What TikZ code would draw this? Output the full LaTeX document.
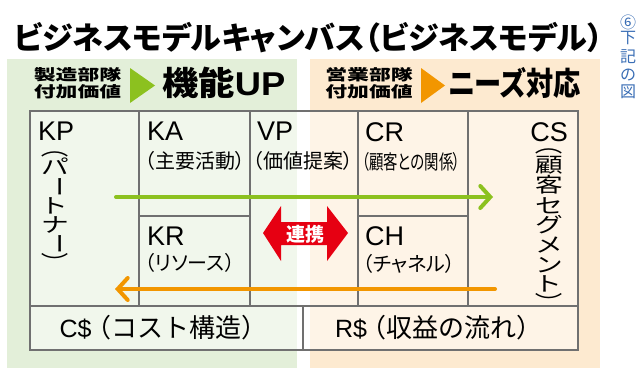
\documentclass[tikz,border=0pt]{standalone}
\usepackage{fontspec}
\usepackage{graphicx}
\usetikzlibrary{arrows.meta}
\newfontfamily\jp[RawFeature=+palt]{Noto Sans CJK JP}
\newfontfamily\jpn{Noto Sans CJK JP}
\newfontfamily\lat{Liberation Sans}
\definecolor{bggreen}{HTML}{E3EFD9}
\definecolor{bgorange}{HTML}{FDEAD0}
\definecolor{gridgray}{HTML}{707070}
\definecolor{argreen}{HTML}{8CC11F}
\definecolor{arorange}{HTML}{F29600}
\definecolor{kred}{HTML}{E60012}
\definecolor{kblue}{HTML}{3A6EB5}
\tikzset{
  cell/.style={draw=gridgray, line width=1.2pt, fill=white, fill opacity=0.5, rectangle, inner sep=0pt, outer sep=0pt, anchor=north west},
  code/.style={inner sep=0pt, font=\lat\fontsize{27}{27}\selectfont, text=black},
  sub/.style={inner sep=0pt, font=\jp\fontsize{20}{20}\selectfont, text=black, anchor=west},
  vch/.style={inner sep=0pt, font=\jp\fontsize{20.5}{20.5}\selectfont, text=black},
  flow/.style={line width=4pt, line cap=round, -{Straight Barb[length=10pt, width=22pt, line cap=round]}},
}
\newcommand{\wx}[2]{\scalebox{#1}[1]{#2}}
\newcommand{\vr}[1]{\rotatebox{-90}{#1}}
\begin{document}
\begin{tikzpicture}[x=1pt,y=-1pt]
\useasboundingbox (0,0) rectangle (636,372);
% backgrounds
\fill[bggreen] (7,59) rectangle (297,368);
\fill[bgorange] (310,59) rectangle (600,368);
% title
\node[inner sep=0pt, anchor=west, font=\jp\bfseries\fontsize{31}{31}\selectfont] (title) at (14,38) {ビジネスモデルキャンバス（ビジネスモデル）};
% side note
\foreach \c/\yy [count=\i] in {⑥/22, 下/38, 記/57, の/75, 図/92}
  \node[inner sep=0pt, text=kblue, font=\jpn\fontsize{16}{16}\selectfont] (side\i) at (628,\yy) {\c};
% headers
\node[inner sep=0pt, font=\jp\bfseries\fontsize{19}{19}\selectfont] (hl1) at (77.5,75) {\scalebox{1.15}[0.8]{製造部隊}};
\node[inner sep=0pt, font=\jp\bfseries\fontsize{19}{19}\selectfont] (hl2) at (77.5,92) {\scalebox{1.15}[0.8]{付加価値}};
\fill[argreen] (130,68) -- (155,85.5) -- (130,103) -- cycle;
\node[inner sep=0pt, anchor=west, font=\jp\bfseries\fontsize{33}{33}\selectfont] (hlf) at (162,83) {\wx{1.1}{機能{\lat\bfseries UP}}};
\node[inner sep=0pt, font=\jp\bfseries\fontsize{19}{19}\selectfont] (hr1) at (369,75) {\scalebox{1.15}[0.8]{営業部隊}};
\node[inner sep=0pt, font=\jp\bfseries\fontsize{19}{19}\selectfont] (hr2) at (369,92) {\scalebox{1.15}[0.8]{付加価値}};
\fill[arorange] (421,68) -- (445,85.5) -- (421,103) -- cycle;
\node[inner sep=0pt, anchor=west, font=\jp\bfseries\fontsize{32}{32}\selectfont] (hrf) at (448,83) {\scalebox{0.85}[1]{ニーズ対応}};
% table cells
\node[cell, minimum width=109pt, minimum height=195pt] (KP) at (30,111) {};
\node[cell, minimum width=111pt, minimum height=105pt] (KA) at (139,111) {};
\node[cell, minimum width=111pt, minimum height=90pt] (KR) at (139,216) {};
\node[cell, minimum width=108pt, minimum height=195pt] (VP) at (250,111) {};
\node[cell, minimum width=110pt, minimum height=105pt] (CR) at (358,111) {};
\node[cell, minimum width=110pt, minimum height=90pt] (CH) at (358,216) {};
\node[cell, minimum width=110pt, minimum height=195pt] (CS) at (468,111) {};
\node[cell, minimum width=273pt, minimum height=44pt] (CC) at (30,306) {};
\node[cell, minimum width=275pt, minimum height=44pt] (RR) at (303,306) {};
% cell labels
\node[code, anchor=north west] (tKP) at (38,122) {KP};
\foreach \c/\yy [count=\i] in {\vr{（}/152, パ/166, \vr{ー}/187, ト/206, ナ/225, \vr{ー}/244, \vr{）}/258}
  \node[vch] (vKP\i) at (55,\yy) {\wx{1.35}{\c}};
\node[code, anchor=north west] (tKA) at (147,122) {KA};
\node[sub] (sKA) at (145,161) {（主要活動）};
\node[code, anchor=north west] (tVP) at (257,122) {VP};
\node[sub] (sVP) at (253,161) {（価値提案）};
\node[code, anchor=north west] (tCR) at (365,122) {CR};
\node[sub] (sCR) at (362,162) {\wx{0.72}{（顧客との関係）}};
\node[code, anchor=north west] (tKR) at (147,227) {KR};
\node[sub] (sKR) at (145,263) {（リソース）};
\node[code, anchor=north west] (tCH) at (365,226) {CH};
\node[sub] (sCH) at (363,264) {（チャネル）};
\node[code, anchor=north east] (tCS) at (568,122) {CS};
\foreach \c/\yy [count=\i] in {\vr{（}/149, 顧/165, 客/185, セ/205.5, グ/225, メ/245, ン/265, ト/284, \vr{）}/298}
  \node[vch] (vCS\i) at (549,\yy) {\wx{1.35}{\c}};
\node[inner sep=0pt, font=\jpn\fontsize{26}{26}\selectfont] (tCC) at (163.5,328) {{\lat\fontsize{25}{25}\selectfont C\$}\hspace{-6pt}（コスト構造）};
\node[inner sep=0pt, font=\jpn\fontsize{26}{26}\selectfont] (tRR) at (439,328) {{\lat\fontsize{25}{25}\selectfont R\$}\hspace{-6pt}（収益の流れ）};
% flow arrows
\coordinate (g1) at (116,197);
\coordinate (g2) at (493,197);
\draw[flow, argreen] (g1) -- (g2);
\coordinate (o1) at (495,289);
\coordinate (o2) at (115,289);
\draw[flow, arorange] (o1) -- (o2);
% collaboration double arrow
\fill[kred] (263,233) -- (281,206) -- (281,222) -- (327,222) -- (327,206) -- (348,233) -- (327,261) -- (327,245) -- (281,245) -- (281,261) -- cycle;
\node[inner sep=0pt, text=white, font=\jp\bfseries\fontsize{19}{19}\selectfont] (renkei) at (305,234) {連携};
\end{tikzpicture}
\end{document}
